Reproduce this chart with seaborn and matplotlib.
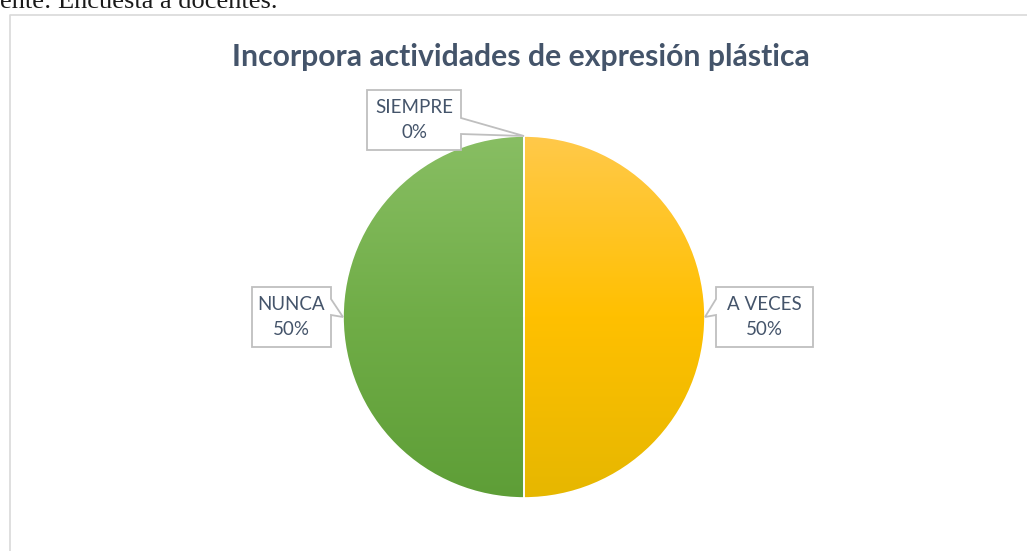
import numpy as np
import matplotlib
matplotlib.use('Agg')
import matplotlib.pyplot as plt
from matplotlib.patches import Polygon
import seaborn as sns

# data
categories = ['SIEMPRE', 'A VECES', 'NUNCA']
percentages = [0, 50, 50]
chart_title = 'Incorpora actividades de expresión plástica'
source_note = 'Fuente: Encuesta a docentes.'

# gradient stops per slice (top, middle, bottom)
slice_colors = {
  'SIEMPRE': ['#6E9BD6', '#4472C4', '#3A62A8'],
  'A VECES': ['#FFC94A', '#FFC000', '#E6B700'],
  'NUNCA': ['#88BE63', '#70AD47', '#5E9E37'],
}

# layout, in image pixels (y measured from top)
W, H = 1027, 551
pie_cx, pie_cy, pie_r = 524, 317, 181
label_boxes = {
  'SIEMPRE': (414, 120, 94, 60),
  'A VECES': (764.5, 317, 97, 60),
  'NUNCA': (291.5, 317, 79, 60),
}
text_color = '#44546A'
box_edge = '#BFBFBF'

sns.set_style('white')
plt.rcParams['font.family'] = ['Lato', 'DejaVu Sans']

fig = plt.figure(figsize=(W / 100, H / 100), dpi=100)
ax = fig.add_axes([0, 0, 1, 1])

def flip(y):
  return H - y

# chart area border (runs off the right and bottom)
ax.plot([9.5, 9.5, W + 5], [flip(H + 5), flip(14.5), flip(14.5)], color='#D9D9D9', lw=1.2, zorder=1)

# pie
wedges, _ = ax.pie(percentages, center=(pie_cx, flip(pie_cy)), radius=pie_r, startangle=90,
                   counterclock=False, frame=True,
                   wedgeprops=dict(edgecolor='white', linewidth=1.2, zorder=3))
ax.set_xlim(0, W)
ax.set_ylim(0, H)
ax.axis('off')

grad = np.linspace(0, 1, 256).reshape(-1, 1)
for w, name in zip(wedges, categories):
  cmap = sns.blend_palette(slice_colors[name], as_cmap=True)
  im = ax.imshow(grad, cmap=cmap, aspect='auto', interpolation='bilinear', origin='upper',
                 extent=(pie_cx - pie_r, pie_cx + pie_r, flip(pie_cy + pie_r), flip(pie_cy - pie_r)),
                 zorder=2)
  im.set_clip_path(w)
  w.set_facecolor('none')

# callout labels
def callout(name, pct, wedge):
  bx, by, bw, bh = label_boxes[name]
  l, r, t, b = bx - bw / 2, bx + bw / 2, by - bh / 2, by + bh / 2
  mid = np.deg2rad((wedge.theta1 + wedge.theta2) / 2)
  tx = pie_cx + pie_r * np.cos(mid)
  ty = pie_cy - pie_r * np.sin(mid)
  c = min(max(ty - 10, t + 8), b - 8)
  b0, b1 = c - 8, c + 8
  if tx > r:
    pts = [(l, t), (r, t), (r, b0), (tx, ty), (r, b1), (r, b), (l, b)]
  else:
    pts = [(l, t), (r, t), (r, b), (l, b), (l, b1), (tx, ty), (l, b0)]
  pts = [(x, flip(y)) for x, y in pts]
  ax.add_patch(Polygon(pts, closed=True, facecolor='white', edgecolor=box_edge, lw=1.3, zorder=5))
  ax.text(bx, flip(by), '%s\n%d%%' % (name, pct), ha='center', va='center', fontsize=13.5,
          color=text_color, linespacing=1.55, zorder=6)

for w, name, pct in zip(wedges, categories, percentages):
  callout(name, pct, w)

fig.text(520.5 / W, 1 - 57 / H, chart_title, ha='center', va='center', fontsize=21.7,
         fontweight='bold', color=text_color)

fig.text(277 / W, 1 - 8 / H, source_note, ha='right', va='baseline', fontsize=19,
         family='Liberation Serif', color='#1A1A1A')

fig.savefig('out.png', dpi=100)
